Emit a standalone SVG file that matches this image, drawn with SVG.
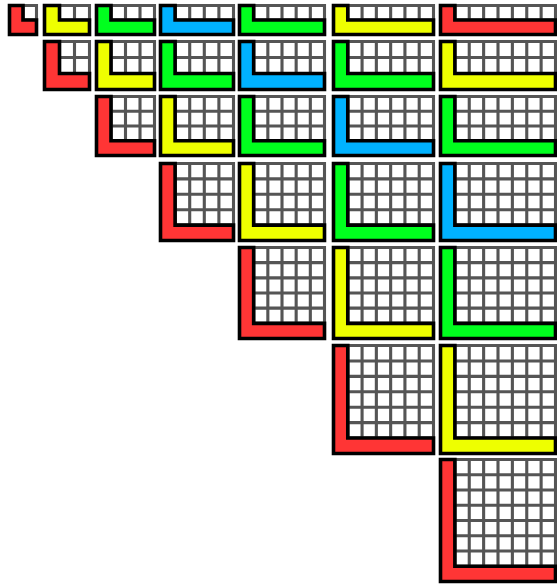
<svg xmlns="http://www.w3.org/2000/svg" width="557" height="585" viewBox="0 0 557 585">
<style>
.grid{fill:none;stroke:#555;stroke-width:3.1;stroke-linecap:square;vector-effect:non-scaling-stroke}
.L{stroke:#000;stroke-width:3.6;stroke-linejoin:miter;vector-effect:non-scaling-stroke}
.red{fill:#ff3535}.yel{fill:#eeff00}.grn{fill:#00ff1e}.blu{fill:#00b2ff}
</style>
<rect width="557" height="585" fill="#fff"/>
<g id="connectors"/>
<!-- row 1 -->
<g id="n-1-1" transform="matrix(13.5,0,0,14.5,9.5,5.5)"><path class="grid" d="M1 0V1M2 0V1M1 0H2M1 1H2"/><polygon class="L red" points="0,0 1,0 1,1 2,1 2,2 0,2"/></g>
<g id="n-1-2" transform="matrix(15,0,0,14.5,44.5,5.5)"><path class="grid" d="M1 0V1M2 0V1M3 0V1M1 0H3M1 1H3"/><polygon class="L yel" points="0,0 1,0 1,1 3,1 3,2 0,2"/></g>
<g id="n-1-3" transform="matrix(14.5,0,0,14.5,96.5,5.5)"><path class="grid" d="M1 0V1M2 0V1M3 0V1M4 0V1M1 0H4M1 1H4"/><polygon class="L grn" points="0,0 1,0 1,1 4,1 4,2 0,2"/></g>
<g id="n-1-4" transform="matrix(14.6,0,0,14.5,160.5,5.5)"><path class="grid" d="M1 0V1M2 0V1M3 0V1M4 0V1M5 0V1M1 0H5M1 1H5"/><polygon class="L blu" points="0,0 1,0 1,1 5,1 5,2 0,2"/></g>
<g id="n-1-5" transform="matrix(14.1667,0,0,14.5,239.5,5.5)"><path class="grid" d="M1 0V1M2 0V1M3 0V1M4 0V1M5 0V1M6 0V1M1 0H6M1 1H6"/><polygon class="L grn" points="0,0 1,0 1,1 6,1 6,2 0,2"/></g>
<g id="n-1-6" transform="matrix(14.2857,0,0,14.5,333.5,5.5)"><path class="grid" d="M1 0V1M2 0V1M3 0V1M4 0V1M5 0V1M6 0V1M7 0V1M1 0H7M1 1H7"/><polygon class="L yel" points="0,0 1,0 1,1 7,1 7,2 0,2"/></g>
<g id="n-1-7" transform="matrix(14.375,0,0,14.5,440.5,5.5)"><path class="grid" d="M1 0V1M2 0V1M3 0V1M4 0V1M5 0V1M6 0V1M7 0V1M8 0V1M1 0H8M1 1H8"/><polygon class="L red" points="0,0 1,0 1,1 8,1 8,2 0,2"/></g>
<!-- row 2 -->
<g id="n-2-2" transform="matrix(15,0,0,16,44.5,41.5)"><path class="grid" d="M1 0V2M2 0V2M3 0V2M1 0H3M1 1H3M1 2H3"/><polygon class="L red" points="0,0 1,0 1,2 3,2 3,3 0,3"/></g>
<g id="n-2-3" transform="matrix(14.5,0,0,16,96.5,41.5)"><path class="grid" d="M1 0V2M2 0V2M3 0V2M4 0V2M1 0H4M1 1H4M1 2H4"/><polygon class="L yel" points="0,0 1,0 1,2 4,2 4,3 0,3"/></g>
<g id="n-2-4" transform="matrix(14.6,0,0,16,160.5,41.5)"><path class="grid" d="M1 0V2M2 0V2M3 0V2M4 0V2M5 0V2M1 0H5M1 1H5M1 2H5"/><polygon class="L grn" points="0,0 1,0 1,2 5,2 5,3 0,3"/></g>
<g id="n-2-5" transform="matrix(14.1667,0,0,16,239.5,41.5)"><path class="grid" d="M1 0V2M2 0V2M3 0V2M4 0V2M5 0V2M6 0V2M1 0H6M1 1H6M1 2H6"/><polygon class="L blu" points="0,0 1,0 1,2 6,2 6,3 0,3"/></g>
<g id="n-2-6" transform="matrix(14.2857,0,0,16,333.5,41.5)"><path class="grid" d="M1 0V2M2 0V2M3 0V2M4 0V2M5 0V2M6 0V2M7 0V2M1 0H7M1 1H7M1 2H7"/><polygon class="L grn" points="0,0 1,0 1,2 7,2 7,3 0,3"/></g>
<g id="n-2-7" transform="matrix(14.375,0,0,16,440.5,41.5)"><path class="grid" d="M1 0V2M2 0V2M3 0V2M4 0V2M5 0V2M6 0V2M7 0V2M8 0V2M1 0H8M1 1H8M1 2H8"/><polygon class="L yel" points="0,0 1,0 1,2 8,2 8,3 0,3"/></g>
<!-- row 3 -->
<g id="n-3-3" transform="matrix(14.5,0,0,14.75,96.5,96.5)"><path class="grid" d="M1 0V3M2 0V3M3 0V3M4 0V3M1 0H4M1 1H4M1 2H4M1 3H4"/><polygon class="L red" points="0,0 1,0 1,3 4,3 4,4 0,4"/></g>
<g id="n-3-4" transform="matrix(14.6,0,0,14.75,160.5,96.5)"><path class="grid" d="M1 0V3M2 0V3M3 0V3M4 0V3M5 0V3M1 0H5M1 1H5M1 2H5M1 3H5"/><polygon class="L yel" points="0,0 1,0 1,3 5,3 5,4 0,4"/></g>
<g id="n-3-5" transform="matrix(14.1667,0,0,14.75,239.5,96.5)"><path class="grid" d="M1 0V3M2 0V3M3 0V3M4 0V3M5 0V3M6 0V3M1 0H6M1 1H6M1 2H6M1 3H6"/><polygon class="L grn" points="0,0 1,0 1,3 6,3 6,4 0,4"/></g>
<g id="n-3-6" transform="matrix(14.2857,0,0,14.75,333.5,96.5)"><path class="grid" d="M1 0V3M2 0V3M3 0V3M4 0V3M5 0V3M6 0V3M7 0V3M1 0H7M1 1H7M1 2H7M1 3H7"/><polygon class="L blu" points="0,0 1,0 1,3 7,3 7,4 0,4"/></g>
<g id="n-3-7" transform="matrix(14.375,0,0,14.75,440.5,96.5)"><path class="grid" d="M1 0V3M2 0V3M3 0V3M4 0V3M5 0V3M6 0V3M7 0V3M8 0V3M1 0H8M1 1H8M1 2H8M1 3H8"/><polygon class="L grn" points="0,0 1,0 1,3 8,3 8,4 0,4"/></g>
<!-- row 4 -->
<g id="n-4-4" transform="matrix(14.6,0,0,15.4,160.5,163.5)"><path class="grid" d="M1 0V4M2 0V4M3 0V4M4 0V4M5 0V4M1 0H5M1 1H5M1 2H5M1 3H5M1 4H5"/><polygon class="L red" points="0,0 1,0 1,4 5,4 5,5 0,5"/></g>
<g id="n-4-5" transform="matrix(14.1667,0,0,15.4,239.5,163.5)"><path class="grid" d="M1 0V4M2 0V4M3 0V4M4 0V4M5 0V4M6 0V4M1 0H6M1 1H6M1 2H6M1 3H6M1 4H6"/><polygon class="L yel" points="0,0 1,0 1,4 6,4 6,5 0,5"/></g>
<g id="n-4-6" transform="matrix(14.2857,0,0,15.4,333.5,163.5)"><path class="grid" d="M1 0V4M2 0V4M3 0V4M4 0V4M5 0V4M6 0V4M7 0V4M1 0H7M1 1H7M1 2H7M1 3H7M1 4H7"/><polygon class="L grn" points="0,0 1,0 1,4 7,4 7,5 0,5"/></g>
<g id="n-4-7" transform="matrix(14.375,0,0,15.4,440.5,163.5)"><path class="grid" d="M1 0V4M2 0V4M3 0V4M4 0V4M5 0V4M6 0V4M7 0V4M8 0V4M1 0H8M1 1H8M1 2H8M1 3H8M1 4H8"/><polygon class="L blu" points="0,0 1,0 1,4 8,4 8,5 0,5"/></g>
<!-- row 5 -->
<g id="n-5-5" transform="matrix(14.1667,0,0,15.1667,239.5,247.5)"><path class="grid" d="M1 0V5M2 0V5M3 0V5M4 0V5M5 0V5M6 0V5M1 0H6M1 1H6M1 2H6M1 3H6M1 4H6M1 5H6"/><polygon class="L red" points="0,0 1,0 1,5 6,5 6,6 0,6"/></g>
<g id="n-5-6" transform="matrix(14.2857,0,0,15.1667,333.5,247.5)"><path class="grid" d="M1 0V5M2 0V5M3 0V5M4 0V5M5 0V5M6 0V5M7 0V5M1 0H7M1 1H7M1 2H7M1 3H7M1 4H7M1 5H7"/><polygon class="L yel" points="0,0 1,0 1,5 7,5 7,6 0,6"/></g>
<g id="n-5-7" transform="matrix(14.375,0,0,15.1667,440.5,247.5)"><path class="grid" d="M1 0V5M2 0V5M3 0V5M4 0V5M5 0V5M6 0V5M7 0V5M8 0V5M1 0H8M1 1H8M1 2H8M1 3H8M1 4H8M1 5H8"/><polygon class="L grn" points="0,0 1,0 1,5 8,5 8,6 0,6"/></g>
<!-- row 6 -->
<g id="n-6-6" transform="matrix(14.2857,0,0,15.4286,333.5,345.5)"><path class="grid" d="M1 0V6M2 0V6M3 0V6M4 0V6M5 0V6M6 0V6M7 0V6M1 0H7M1 1H7M1 2H7M1 3H7M1 4H7M1 5H7M1 6H7"/><polygon class="L red" points="0,0 1,0 1,6 7,6 7,7 0,7"/></g>
<g id="n-6-7" transform="matrix(14.375,0,0,15.4286,440.5,345.5)"><path class="grid" d="M1 0V6M2 0V6M3 0V6M4 0V6M5 0V6M6 0V6M7 0V6M8 0V6M1 0H8M1 1H8M1 2H8M1 3H8M1 4H8M1 5H8M1 6H8"/><polygon class="L yel" points="0,0 1,0 1,6 8,6 8,7 0,7"/></g>
<!-- row 7 -->
<g id="n-7-7" transform="matrix(14.375,0,0,15.25,440.5,459.5)"><path class="grid" d="M1 0V7M2 0V7M3 0V7M4 0V7M5 0V7M6 0V7M7 0V7M8 0V7M1 0H8M1 1H8M1 2H8M1 3H8M1 4H8M1 5H8M1 6H8M1 7H8"/><polygon class="L red" points="0,0 1,0 1,7 8,7 8,8 0,8"/></g>
</svg>
